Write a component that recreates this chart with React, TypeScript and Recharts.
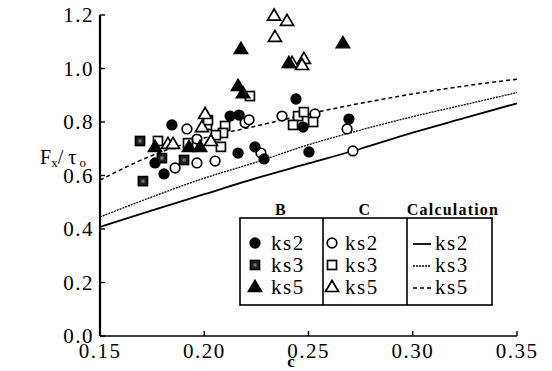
import React from 'react'
import {
  ComposedChart,
  Line,
  Scatter,
  XAxis,
  YAxis,
  Legend,
} from 'recharts'

// 実測値 B
const bKs2 = [
  { x: 0.1845, y: 0.789 }, { x: 0.2124, y: 0.822 }, { x: 0.2167, y: 0.826 },
  { x: 0.244, y: 0.886 }, { x: 0.2474, y: 0.781 }, { x: 0.2694, y: 0.811 },
  { x: 0.2162, y: 0.684 }, { x: 0.2243, y: 0.707 }, { x: 0.2287, y: 0.662 },
  { x: 0.2502, y: 0.688 }, { x: 0.1764, y: 0.647 }, { x: 0.1807, y: 0.606 },
]
const bKs3 = [
  { x: 0.1692, y: 0.729 }, { x: 0.1706, y: 0.579 }, { x: 0.1797, y: 0.665 },
  { x: 0.1903, y: 0.658 },
]
const bKs5 = [
  { x: 0.2176, y: 1.073 }, { x: 0.2665, y: 1.095 }, { x: 0.2162, y: 0.935 },
  { x: 0.2186, y: 0.908 }, { x: 0.1764, y: 0.707 }, { x: 0.1927, y: 0.707 },
  { x: 0.198, y: 0.707 }, { x: 0.2406, y: 1.021 },
]

// 実測値 C
const cKs2 = [
  { x: 0.1917, y: 0.774 }, { x: 0.2196, y: 0.797 }, { x: 0.2215, y: 0.808 },
  { x: 0.2373, y: 0.822 }, { x: 0.2531, y: 0.83 }, { x: 0.2685, y: 0.774 },
  { x: 0.2713, y: 0.692 }, { x: 0.1965, y: 0.736 }, { x: 0.2272, y: 0.684 },
  { x: 0.1965, y: 0.647 }, { x: 0.186, y: 0.628 }, { x: 0.2052, y: 0.654 },
]
const cKs3 = [
  { x: 0.2219, y: 0.897 }, { x: 0.21, y: 0.785 }, { x: 0.2013, y: 0.789 },
  { x: 0.2018, y: 0.807 }, { x: 0.209, y: 0.759 }, { x: 0.2056, y: 0.751 },
  { x: 0.208, y: 0.707 }, { x: 0.1922, y: 0.721 }, { x: 0.1778, y: 0.729 },
  { x: 0.245, y: 0.822 }, { x: 0.2478, y: 0.837 }, { x: 0.2426, y: 0.789 },
  { x: 0.2522, y: 0.8 },
]
const cKs5 = [
  { x: 0.2335, y: 1.198 }, { x: 0.2397, y: 1.178 }, { x: 0.2339, y: 1.118 },
  { x: 0.2421, y: 1.021 }, { x: 0.2478, y: 1.036 }, { x: 0.2469, y: 1.013 },
  { x: 0.2004, y: 0.83 }, { x: 0.1989, y: 0.781 }, { x: 0.1826, y: 0.718 },
  { x: 0.185, y: 0.718 }, { x: 0.2032, y: 0.729 },
]

// 計算値
const calcX = [0.15, 0.175, 0.2, 0.225, 0.25, 0.275, 0.3, 0.325, 0.35]
const calcKs2 = [0.408, 0.47, 0.53, 0.59, 0.645, 0.7, 0.76, 0.815, 0.87]
const calcKs3 = [0.445, 0.52, 0.59, 0.65, 0.715, 0.77, 0.82, 0.865, 0.91]
const calcKs5 = [0.583, 0.675, 0.74, 0.785, 0.83, 0.87, 0.905, 0.935, 0.96]

const xTicks = [0.15, 0.2, 0.25, 0.3, 0.35]
const yTicks = [0, 0.2, 0.4, 0.6, 0.8, 1.0, 1.2]

const toLine = (ys: number[]) => calcX.map((x, i) => ({ x, y: ys[i] }))

const FONT = '"Liberation Serif", "DejaVu Serif", serif'
const tickText = { fontSize: 21, fontFamily: FONT, fill: '#000', letterSpacing: 1.5 }

// マーカー
const dot = (fill: boolean) => (p: any) => (
  <circle cx={p.cx} cy={p.cy} r={4.8} fill={fill ? '#000' : '#fff'} stroke="#000" strokeWidth={1.7} />
)
const sq = (fill: boolean) => (p: any) => (
  <g>
    <rect x={p.cx - 4.5} y={p.cy - 4.5} width={9} height={9} fill={fill ? '#222' : '#fff'} stroke="#000" strokeWidth={1.7} />
    {fill && <rect x={p.cx - 1.5} y={p.cy - 1.5} width={3} height={3} fill="#777" />}
  </g>
)
const tri = (fill: boolean) => (p: any) => (
  <polygon
    points={`${p.cx},${p.cy - 6.5} ${p.cx + 6.5},${p.cy + 4.5} ${p.cx - 6.5},${p.cy + 4.5}`}
    fill={fill ? '#000' : '#fff'}
    stroke="#000"
    strokeWidth={1.7}
  />
)

// 内向きの目盛り
const YTick = (p: any) => (
  <g>
    <line x1={p.x} x2={p.x + 5} y1={p.y} y2={p.y} stroke="#000" strokeWidth={1.4} />
    <text x={p.x - 6} y={p.y + 7} textAnchor="end" style={tickText}>
      {Number(p.payload.value).toFixed(1)}
    </text>
  </g>
)
const XTick = (p: any) => (
  <g>
    <line x1={p.x} x2={p.x} y1={p.y} y2={p.y - 5} stroke="#000" strokeWidth={1.4} />
    <text x={p.x} y={p.y + 22} textAnchor="middle" style={tickText}>
      {Number(p.payload.value).toFixed(2)}
    </text>
  </g>
)

const renderLegend = () => {
  const rows = [47, 69, 91]
  const names = ['ks2', 'ks3', 'ks5']
  const txt = { fontFamily: FONT, fontSize: 21, letterSpacing: 1.5, fill: '#000' }
  const head = { fontFamily: FONT, fontSize: 16, fontWeight: 700, letterSpacing: 1.2, fill: '#000' }
  const shapesB = [dot(true), sq(true), tri(true)]
  const shapesC = [dot(false), sq(false), tri(false)]
  const dashes = [undefined, '2 1', '4 3']
  return (
    <svg width={290} height={115} style={{ overflow: 'visible' }}>
      <text x={45} y={19} textAnchor="middle" style={head}>B</text>
      <text x={129} y={19} textAnchor="middle" style={head}>C</text>
      <text x={217} y={19} textAnchor="middle" style={head}>Calculation</text>
      <rect x={4} y={22} width={252} height={87} fill="#fff" stroke="#000" strokeWidth={1.6} />
      <line x1={87} x2={87} y1={22} y2={109} stroke="#000" strokeWidth={1.6} />
      <line x1={171} x2={171} y1={22} y2={109} stroke="#000" strokeWidth={1.6} />
      {rows.map((cy, i) => (
        <g key={names[i]}>
          {shapesB[i]({ cx: 19, cy })}
          <text x={35} y={cy + 7} style={txt}>{names[i]}</text>
          {shapesC[i]({ cx: 96, cy })}
          <text x={109} y={cy + 7} style={txt}>{names[i]}</text>
          <line x1={177} x2={195} y1={cy + 1} y2={cy + 1} stroke="#000" strokeWidth={i === 0 ? 1.8 : 1.3} strokeDasharray={dashes[i]} />
          <text x={199} y={cy + 7} style={txt}>{names[i]}</text>
        </g>
      ))}
    </svg>
  )
}

export default function App() {
  return (
    <div style={{ position: 'absolute', left: 0, top: 0, background: '#fff' }}>
      <ComposedChart width={552} height={371} margin={{ top: 15, right: 35, bottom: 0, left: 0 }}>
        <XAxis
          type="number"
          dataKey="x"
          domain={[0.15, 0.35]}
          ticks={xTicks}
          interval={0}
          height={35}
          tick={<XTick />}
          tickSize={0}
          tickMargin={0}
          tickLine={false}
          axisLine={{ stroke: '#000', strokeWidth: 1.6 }}
          label={() => (
            <text x={291} y={367} textAnchor="middle" style={{ fontFamily: FONT, fontSize: 17, fontWeight: 700 }}>c</text>
          )}
        />
        <YAxis
          type="number"
          dataKey="y"
          domain={[0, 1.2]}
          ticks={yTicks}
          interval={0}
          width={100}
          tick={<YTick />}
          tickSize={0}
          tickMargin={0}
          tickLine={false}
          axisLine={{ stroke: '#000', strokeWidth: 2.2 }}
          label={() => (
            <text x={40} y={164} style={{ fontFamily: FONT, fontSize: 20, fill: '#000' }}>
              F<tspan fontSize={13} dy={3}>x</tspan>
              <tspan dy={-3}>/ τ</tspan>
              <tspan fontSize={13} dy={3}> o</tspan>
            </text>
          )}
        />
        <Legend
          layout="vertical"
          align="center"
          verticalAlign="middle"
          content={renderLegend}
          wrapperStyle={{ left: 236, top: 196, width: 290, height: 115 }}
        />
        <Line data={toLine(calcKs2)} dataKey="y" type="monotone" stroke="#000" strokeWidth={1.8} dot={false} isAnimationActive={false} />
        <Line data={toLine(calcKs3)} dataKey="y" type="monotone" stroke="#000" strokeWidth={1.3} strokeDasharray="2 1" dot={false} isAnimationActive={false} />
        <Line data={toLine(calcKs5)} dataKey="y" type="monotone" stroke="#000" strokeWidth={1.5} strokeDasharray="4 3" dot={false} isAnimationActive={false} />
        <Scatter data={cKs2} dataKey="y" shape={dot(false)} isAnimationActive={false} />
        <Scatter data={cKs3} dataKey="y" shape={sq(false)} isAnimationActive={false} />
        <Scatter data={cKs5} dataKey="y" shape={tri(false)} isAnimationActive={false} />
        <Scatter data={bKs2} dataKey="y" shape={dot(true)} isAnimationActive={false} />
        <Scatter data={bKs3} dataKey="y" shape={sq(true)} isAnimationActive={false} />
        <Scatter data={bKs5} dataKey="y" shape={tri(true)} isAnimationActive={false} />
      </ComposedChart>
    </div>
  )
}
